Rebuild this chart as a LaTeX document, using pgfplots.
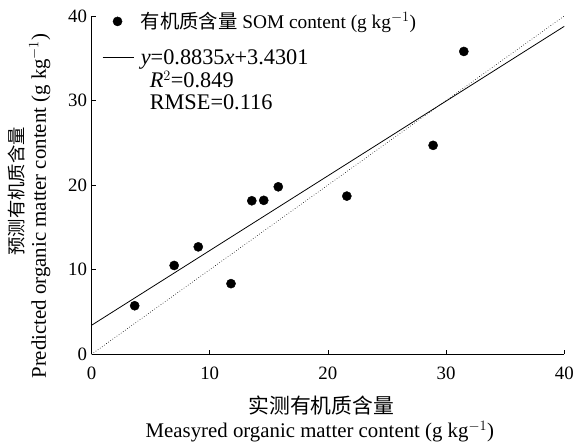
\documentclass[border=0pt]{standalone}
\usepackage{pgfplots}
\pgfplotsset{compat=1.18}
\usepackage{fontspec}
\setmainfont{Liberation Serif}
\newfontfamily\cjk{Noto Sans CJK SC}
\begin{document}
\begin{tikzpicture}
\begin{axis}[
  name=main,
  scale only axis,
  width=475bp, height=340bp,
  xmin=0, xmax=40, ymin=0, ymax=40,
  axis lines=left,
  axis line style={-, line width=0.8pt},
  tick align=inside,
  major tick length=4bp,
  tick style={line width=0.8pt, black},
  xtick={0,10,20,30,40}, ytick={0,10,20,30,40},
  /pgf/number format/assume math mode=true,
  tick label style={font=\fontsize{19}{22}\selectfont},
  xticklabel style={yshift=-9bp},
  yticklabel style={xshift=-1bp},
  extra description/.code={
    \node[anchor=base, inner sep=0pt, font=\cjk\fontsize{21}{23}\selectfont] at (axis description cs:0.486,-0.176) {实测有机质含量};
    \node[anchor=base, inner sep=0pt, font=\fontsize{21}{23}\selectfont] at (axis description cs:0.483,-0.247) {Measyred organic matter content (g kg$^{-1}$)};
    \node[rotate=90, anchor=base, inner sep=0pt, font=\cjk\fontsize{18.5}{22}\selectfont] at (axis description cs:-0.143,0.482) {预测有机质含量};
    \node[rotate=90, anchor=base, inner sep=0pt, font=\fontsize{21}{23}\selectfont] at (axis description cs:-0.0968,0.438) {Predicted organic matter content (g kg$^{-1}$)};
  },
  legend style={draw=none, fill=none, at={(axis description cs:0.02,1.02)}, anchor=north west,
    font=\fontsize{19.5}{22}\selectfont, inner sep=1bp, row sep=15bp, column sep=4bp},
  legend cell align=left,
]
\addplot[only marks, mark=*, mark size=4.6bp, black,
  legend image code/.code={\fill[black] (15bp,0bp) circle (4.6bp);}] coordinates {
(3.65,5.74) (6.99,10.5) (9.03,12.7) (11.8,8.35) (13.56,18.15)
(14.57,18.2) (15.8,19.8) (21.6,18.7) (28.9,24.7) (31.5,35.8)
};
\addlegendentry{{\cjk 有机质含量} SOM content (g kg$^{-1}$)}
\addplot[black, line width=0.8pt,
  legend image code/.code={\draw[black, line width=0.8pt] (0bp,0bp) -- (32bp,0bp);}] coordinates {(0,3.4301) (40,38.7701)};
\addlegendentry{\fontsize{22.5}{22}\selectfont\begin{tabular}[t]{@{}l@{}}\textit{y}=0.8835\textit{x}+3.4301\\\hspace{9bp}\textit{R}$^{2}$=0.849\\\hspace{9bp}RMSE=0.116\end{tabular}}
\addplot[black, line width=0.6pt, dotted, forget plot] coordinates {(0,0) (40,40)};
\end{axis}
\path ([xshift=-92bp,yshift=-92bp]main.south west) rectangle ([xshift=10bp,yshift=16bp]main.north east);
\end{tikzpicture}
\end{document}
